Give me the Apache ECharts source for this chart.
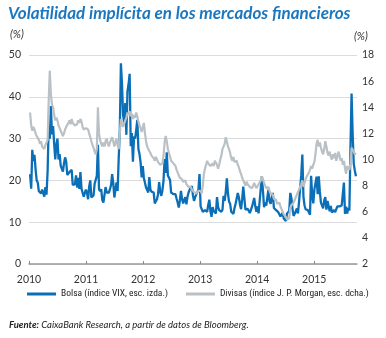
<!DOCTYPE html>
<html>
<head>
<meta charset="utf-8">
<script src="https://cdn.jsdelivr.net/npm/echarts@6/dist/echarts.min.js"></script>
<style>
html,body{margin:0;padding:0;background:#fff;}
#chart{width:386px;height:338px;}
</style>
</head>
<body>
<div id="chart"></div>
<script>
// Weekly observations (Fridays) starting 2010-01-08
const startDate = Date.UTC(2010, 0, 8);

// VIX (left axis, %)
const vix = [
  // 2010
  21.5, 18.0, 27.3, 24.6, 26.1, 22.7, 20.0, 19.5, 17.4, 17.6, 16.9, 17.8,
  17.5, 16.1, 18.4, 16.6, 22.1, 33.0, 30.0, 37.8, 31.0, 33.0, 28.8, 25.0, 28.5,
  30.0, 25.0, 26.3, 23.5, 23.5, 22.1, 24.1, 25.5, 24.5, 21.3, 21.2, 22.0, 21.7,
  22.5, 18.9, 19.0, 19.1, 21.2, 18.3, 20.6, 18.0, 22.0, 18.0, 17.6, 16.1, 16.0, 17.8,
  // 2011
  17.1, 15.5, 18.5, 20.0, 15.9, 15.7, 16.4, 19.2, 19.1, 21.1, 28.5, 17.9,
  17.4, 17.9, 15.3, 14.7, 14.8, 18.4, 17.1, 17.4, 17.1, 17.9, 18.9, 21.5, 19.4,
  15.9, 15.9, 19.5, 17.5, 25.3, 32.0, 48.0, 43.1, 35.6, 33.9, 38.5, 30.9, 41.3, 43.0,
  45.5, 28.2, 31.3, 24.5, 30.5, 30.0, 32.0, 34.5, 27.5, 26.3, 24.3, 20.7, 23.4,
  // 2012
  20.6, 20.9, 18.3, 18.5, 17.1, 20.8, 17.8, 17.3, 17.3, 17.1, 14.5, 15.0, 15.5,
  16.7, 19.6, 17.4, 16.3, 17.6, 19.9, 25.1, 21.8, 26.7, 21.2, 21.1, 20.1, 17.1,
  17.1, 16.7, 16.3, 16.7, 15.6, 14.7, 13.5, 15.2, 17.5, 15.6, 14.5, 14.1, 16.0,
  14.3, 16.1, 17.1, 17.8, 17.6, 18.6, 16.4, 15.1, 16.0, 16.6, 17.0, 17.8, 21.5,
  // 2013
  13.8, 13.4, 12.5, 12.9, 12.9, 13.0, 12.5, 14.2, 15.4, 12.6, 11.3, 13.6, 12.7,
  12.9, 12.1, 16.0, 13.6, 12.9, 12.6, 12.5, 13.0, 16.3, 15.1, 17.2, 20.5, 16.9,
  14.9, 14.4, 12.5, 12.7, 12.0, 13.4, 14.4, 14.8, 17.0, 15.9, 14.2, 13.1, 15.5,
  18.5, 15.7, 13.0, 13.1, 13.2, 12.9, 12.2, 12.3, 13.7, 13.8, 15.8, 13.8, 12.5,
  // 2014
  13.8, 12.1, 12.4, 18.1, 21.0, 17.5, 13.6, 14.7, 14.0, 14.1, 17.8, 15.0, 14.4,
  14.0, 17.0, 13.4, 13.8, 12.9, 12.9, 12.4, 12.0, 11.4, 11.0, 12.2, 10.9, 11.3,
  10.3, 12.1, 12.1, 12.7, 17.0, 15.8, 13.2, 11.5, 12.0, 12.1, 13.3, 12.1, 14.9,
  14.6, 21.2, 26.2, 16.1, 14.0, 13.1, 13.3, 12.9, 13.3, 11.8, 21.1, 16.5, 14.5,
  // 2015
  17.8, 17.6, 20.9, 16.7, 21.0, 17.3, 14.7, 14.3, 13.3, 15.2, 16.0, 13.0, 15.1,
  14.7, 12.6, 13.9, 12.3, 12.7, 12.9, 12.4, 12.1, 13.8, 14.2, 13.8, 14.0, 14.0,
  16.8, 19.5, 12.0, 13.7, 12.1, 13.4, 12.8, 28.0, 40.8, 31.0, 24.0, 22.3, 21.0
];

// J.P. Morgan FX volatility (right axis, %)
const fxVol = [
  // 2010
  13.6, 12.6, 12.2, 12.5, 12.3, 12.0, 11.8, 11.9, 11.5, 11.2, 11.4, 11.0,
  10.9, 10.8, 11.1, 11.0, 11.5, 14.5, 16.8, 15.0, 14.2, 14.0, 13.4, 13.0, 13.2,
  13.0, 12.6, 12.4, 12.2, 12.0, 11.8, 12.0, 12.3, 12.5, 12.4, 12.8, 13.0, 12.7,
  13.1, 12.8, 12.9, 12.6, 12.5, 12.7, 13.0, 12.8, 13.1, 12.9, 12.5, 12.3, 12.2, 12.4,
  // 2011
  12.5, 12.3, 12.0, 11.7, 11.4, 11.1, 10.9, 10.6, 10.4, 10.8, 14.0, 12.0,
  11.5, 11.2, 11.0, 11.3, 11.0, 11.4, 11.6, 11.2, 11.0, 11.3, 11.5, 11.7, 11.4,
  11.0, 11.3, 11.6, 11.1, 10.8, 12.0, 13.1, 12.8, 12.5, 12.6, 13.0, 13.2, 13.6, 13.4,
  13.7, 13.3, 13.5, 13.1, 13.4, 13.2, 13.6, 13.3, 12.9, 12.6, 12.4, 12.1, 12.0,
  // 2012
  12.8, 12.0, 11.4, 11.0, 10.8, 10.9, 10.5, 10.3, 10.4, 10.1, 9.9, 10.2, 10.0,
  9.8, 9.9, 9.6, 9.5, 9.7, 10.3, 11.3, 11.8, 11.4, 10.8, 10.5, 10.2, 9.9,
  10.0, 9.7, 9.8, 9.5, 9.2, 9.0, 8.8, 8.6, 8.7, 8.5, 8.3, 8.2, 8.4,
  8.1, 8.2, 7.9, 7.8, 7.9, 7.7, 7.8, 7.5, 7.6, 7.4, 7.5, 7.6, 7.7,
  // 2013
  7.6, 7.4, 8.0, 8.9, 9.3, 9.6, 9.9, 9.7, 9.8, 9.5, 9.4, 9.7, 9.5,
  9.9, 10.0, 9.6, 9.3, 9.6, 10.0, 10.3, 10.8, 10.9, 11.2, 11.7, 11.4, 11.0,
  10.8, 10.5, 10.1, 9.9, 10.2, 9.8, 9.7, 9.9, 9.6, 9.4, 9.1, 8.9, 8.6,
  8.4, 8.2, 8.0, 8.3, 8.1, 8.2, 7.9, 8.0, 7.8, 8.0, 8.2, 8.0, 7.8,
  // 2014
  7.9, 8.1, 8.0, 8.4, 8.7, 8.5, 8.2, 8.0, 7.8, 7.7, 7.9, 7.6, 7.4,
  7.5, 7.3, 7.0, 7.1, 6.9, 6.6, 6.5, 6.7, 6.4, 6.2, 6.0, 5.8, 5.9,
  5.6, 5.4, 5.3, 5.5, 6.3, 6.5, 6.4, 6.7, 6.9, 7.1, 7.3, 7.5, 7.7,
  7.8, 8.1, 8.4, 7.9, 8.2, 8.5, 8.7, 8.6, 9.0, 9.2, 9.5, 9.3, 9.6,
  // 2015
  9.8, 10.4, 11.2, 11.5, 11.0, 11.3, 10.9, 10.6, 10.4, 10.8, 11.4, 11.0, 10.5,
  10.3, 10.6, 10.2, 10.0, 10.4, 10.1, 10.5, 9.9, 10.2, 10.6, 10.3, 9.9, 10.1,
  9.6, 9.9, 9.3, 8.9, 9.5, 9.4, 9.2, 9.7, 10.9, 11.0, 10.6, 10.4, 10.5
];

const yearTicks = [2010, 2011, 2012, 2013, 2014, 2015];
const seriesNames = ['Bolsa (índice VIX, esc. izda.)', 'Divisas (índice J. P. Morgan, esc. dcha.)'];

function fracYear(ms) {
  const d = new Date(ms);
  const y = d.getUTCFullYear();
  const s = Date.UTC(y, 0, 1), e = Date.UTC(y + 1, 0, 1);
  return y + (ms - s) / (e - s);
}
const WEEK = 7 * 86400000;
const toPairs = arr => arr.map((v, i) => [fracYear(startDate + i * WEEK), v]);

const FONT = "Lato, 'Liberation Sans', sans-serif";
const COND = "'Roboto Condensed', Lato, sans-serif";
const BLUE = '#0b6fb8';
const GRAY = '#b9c1c6';

const chart = echarts.init(document.getElementById('chart'), null, {renderer: 'canvas'});
chart.setOption({
  animation: false,
  backgroundColor: '#fff',
  textStyle: {fontFamily: FONT},
  title: {
    text: 'Volatilidad implícita en los mercados financieros',
    left: 8, top: 5, padding: 0,
    textStyle: {fontFamily: FONT, fontSize: 17, fontWeight: 'bold', fontStyle: 'italic', color: '#1b78c0'}
  },
  graphic: [
    {type: 'text', left: 10, top: 29, style: {text: '(%)', font: "italic 11px " + FONT, fill: '#333'}},
    {type: 'text', left: 354, top: 31, style: {text: '(%)', font: "italic 11px " + FONT, fill: '#333'}},
    {type: 'text', left: 9, top: 320, style: {
      rich: {
        b: {fontFamily: FONT, fontSize: 9.5, fontWeight: 'bold', fontStyle: 'italic', fill: '#222', color: '#222'},
        n: {fontFamily: FONT, fontSize: 9.5, fontStyle: 'italic', fill: '#222', color: '#222'}
      },
      text: '{b|Fuente:}{n| CaixaBank Research, a partir de datos de Bloomberg.}'
    }}
  ],
  grid: {left: 29, right: 29, top: 55, bottom: 74, containLabel: false},
  legend: {
    data: seriesNames,
    left: 27, top: 289, width: 350, padding: 0,
    icon: 'rect', itemWidth: 29, itemHeight: 3, itemGap: 18,
    textStyle: {fontFamily: COND, fontSize: 9.5, color: '#222'}
  },
  xAxis: {
    type: 'value', min: 2010, max: 2015.75,
    axisLine: {show: true, onZero: false, lineStyle: {color: '#999', width: 1.5}},
    axisTick: {show: true, inside: true, length: 3, lineStyle: {color: '#888'}, customValues: yearTicks},
    axisLabel: {customValues: yearTicks, formatter: v => String(v), fontSize: 10.5, color: '#333', margin: 10, fontFamily: FONT},
    splitLine: {show: false}
  },
  yAxis: [
    {
      type: 'value', min: 0, max: 50, interval: 10, position: 'left',
      axisLine: {show: false}, axisTick: {show: false},
      axisLabel: {fontSize: 10.5, color: '#333', margin: 8, fontFamily: FONT},
      splitLine: {show: true, lineStyle: {color: '#dcdcdc', width: 1}}
    },
    {
      type: 'value', min: 2, max: 18, interval: 2, position: 'right',
      axisLine: {show: false}, axisTick: {show: false},
      axisLabel: {fontSize: 10.5, color: '#333', margin: 5, fontFamily: FONT},
      splitLine: {show: false}
    }
  ],
  series: [
    {
      name: seriesNames[0], type: 'line', yAxisIndex: 0,
      data: toPairs(vix), showSymbol: false, symbol: 'none',
      lineStyle: {color: BLUE, width: 2.3}, itemStyle: {color: BLUE},
      emphasis: {disabled: true}
    },
    {
      name: seriesNames[1], type: 'line', yAxisIndex: 1,
      data: toPairs(fxVol), showSymbol: false, symbol: 'none',
      lineStyle: {color: GRAY, width: 2.2}, itemStyle: {color: GRAY},
      emphasis: {disabled: true}
    }
  ]
});
</script>
</body>
</html>
